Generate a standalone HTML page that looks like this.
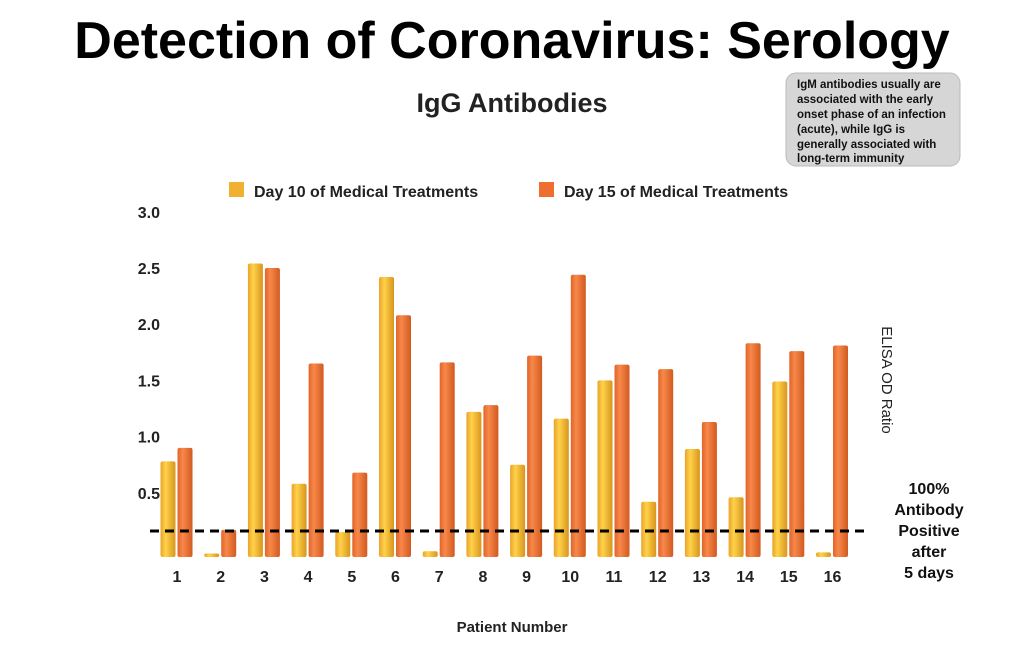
<!DOCTYPE html>
<html><head><meta charset="utf-8"><style>
body{margin:0;width:1024px;height:644px;background:#fff;overflow:hidden;font-family:"Liberation Sans",sans-serif}
</style></head><body>
<svg width="1024" height="644" viewBox="0 0 1024 644" xmlns="http://www.w3.org/2000/svg">
<defs>
<linearGradient id="gy" x1="0" x2="1"><stop offset="0" stop-color="#e9a32a"/><stop offset="0.35" stop-color="#ffd24a"/><stop offset="1" stop-color="#d8951c"/></linearGradient>
<linearGradient id="go" x1="0" x2="1"><stop offset="0" stop-color="#e0652a"/><stop offset="0.35" stop-color="#f8884a"/><stop offset="1" stop-color="#d15a20"/></linearGradient>
</defs>
<text x="512" y="58" text-anchor="middle" font-size="52" font-weight="bold" fill="#000">Detection of Coronavirus: Serology</text>
<text x="512" y="112" text-anchor="middle" font-size="27" font-weight="bold" fill="#222">IgG Antibodies</text>
<g>
<rect x="786" y="73" width="174" height="93" rx="10" fill="#d6d6d6" stroke="#bbb"/>
<text font-size="11.5" font-weight="bold" fill="#111">
<tspan x="797" y="88">IgM antibodies usually are</tspan>
<tspan x="797" y="103">associated with the early</tspan>
<tspan x="797" y="118">onset phase of an infection</tspan>
<tspan x="797" y="133">(acute), while IgG is</tspan>
<tspan x="797" y="148">generally associated with</tspan>
<tspan x="797" y="162">long-term immunity</tspan>
</text></g>
<g>
<rect x="229" y="182" width="15" height="15" fill="#f0b030"/>
<text x="254" y="197" font-size="16" font-weight="bold" fill="#222">Day 10 of Medical Treatments</text>
<rect x="539" y="182" width="15" height="15" fill="#ee6e30"/>
<text x="564" y="197" font-size="16" font-weight="bold" fill="#222">Day 15 of Medical Treatments</text>
</g>
<g id="yaxis"></g>
<g id="bars"></g>
<g id="xaxis"></g>
<line x1="150" y1="531" x2="870" y2="531" stroke="#000" stroke-width="3" stroke-dasharray="9,6"/>
<text font-size="16" font-weight="bold" fill="#111" text-anchor="middle">
<tspan x="929" y="494">100%</tspan><tspan x="929" y="515">Antibody</tspan><tspan x="929" y="536">Positive</tspan><tspan x="929" y="557">after</tspan><tspan x="929" y="578">5 days</tspan></text>
<text transform="translate(882,380) rotate(90)" text-anchor="middle" font-size="15" fill="#222">ELISA OD Ratio</text>
<text x="512" y="632" text-anchor="middle" font-size="15" font-weight="bold" fill="#222">Patient Number</text>
</svg>
<script>
const categories=["1","2","3","4","5","6","7","8","9","10","11","12","13","14","15","16"];
const day10=[0.78,-0.04,2.54,0.58,0.15,2.42,-0.02,1.22,0.75,1.16,1.50,0.42,0.89,0.46,1.49,-0.03];
const day15=[0.90,0.17,2.50,1.65,0.68,2.08,1.66,1.28,1.72,2.44,1.64,1.60,1.13,1.83,1.76,1.81];
const yTicks=["0.5","1.0","1.5","2.0","2.5","3.0"];
const NS="http://www.w3.org/2000/svg";
const y=v=>549-v*112.4;
const x=i=>177+i*43.7;
const base=557;
const ya=document.getElementById('yaxis');
yTicks.forEach(t=>{const e=document.createElementNS(NS,'text');
e.setAttribute('x',160);e.setAttribute('y',y(+t)+6);e.setAttribute('text-anchor','end');
e.setAttribute('font-size','16');e.setAttribute('font-weight','bold');e.setAttribute('fill','#222');
e.textContent=t;


ya.appendChild(e);});
const bg=document.getElementById('bars');
function bar(cx,v,fill,name){
 const top=Math.min(y(v),base-3);
 const r=document.createElementNS(NS,'rect');
 r.setAttribute('x',cx-7.5);r.setAttribute('y',top);r.setAttribute('width',15);r.setAttribute('height',base-top);
 r.setAttribute('rx',2);r.setAttribute('fill',fill);
 
 
 bg.appendChild(r);
}
categories.forEach((c,i)=>{
 bar(x(i)-9,day10[i],'url(#gy)','bar-day10-p'+c);
 bar(x(i)+8,day15[i],'url(#go)','bar-day15-p'+c);
 const t=document.createElementNS(NS,'text');
 t.setAttribute('x',x(i));t.setAttribute('y',582);t.setAttribute('text-anchor','middle');
 t.setAttribute('font-size','16');t.setAttribute('font-weight','bold');t.setAttribute('fill','#222');
 t.textContent=c;
 
 
 document.getElementById('xaxis').appendChild(t);
});
</script>
</body></html>
